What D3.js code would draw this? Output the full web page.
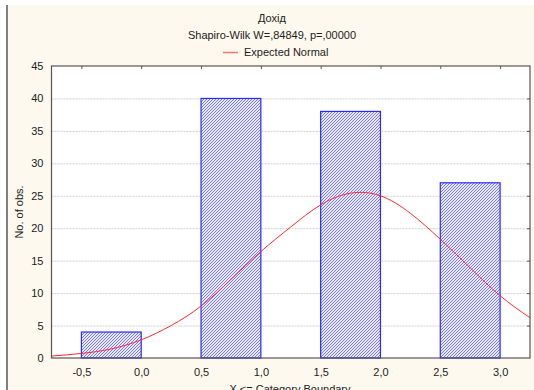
<!DOCTYPE html>
<html>
<head>
<meta charset="utf-8">
<script src="https://cdn.jsdelivr.net/npm/d3@7"></script>
<style>
  body { margin: 0; background: #fff; }
  text { font-family: "Liberation Sans", Arial, sans-serif; fill: #222; }
</style>
</head>
<body>
<svg id="chart" width="534" height="390"></svg>
<script>
// bars: category boundaries (x <= boundary) and counts
var binStarts = [-0.5, 0.5, 1.5, 2.5];
var binEnds = [0.0, 1.0, 2.0, 3.0];
var counts = [4, 40, 38, 27];

// expected normal curve
var curveX = [-0.75, -0.5, -0.25, 0, 0.25, 0.5, 0.75, 1.0, 1.25, 1.5, 1.75, 2.0, 2.25, 2.5, 2.75, 3.0, 3.25];
var curveY = [0.3, 0.7, 1.4, 2.8, 5.0, 8.0, 12.1, 16.4, 20.2, 23.6, 25.4, 25.0, 22.3, 18.3, 13.9, 9.6, 6.2];

var xTicks = [-0.5, 0.0, 0.5, 1.0, 1.5, 2.0, 2.5, 3.0];
var yTicks = [0, 5, 10, 15, 20, 25, 30, 35, 40, 45];

var svg = d3.select("#chart");

// page background
svg.append("rect").attr("x", 8).attr("y", 5).attr("width", 526).attr("height", 385).attr("fill", "#fdf9ee");
svg.append("rect").attr("x", 6).attr("y", 5).attr("width", 2).attr("height", 385).attr("fill", "#808080");

var plotLeft = 51.5, plotRight = 530, plotTop = 66, plotBottom = 358;

var x = d3.scaleLinear().domain([-0.75, 3.25]).range([plotLeft, plotRight]);
var y = d3.scaleLinear().domain([0, 45]).range([plotBottom, plotTop]);

var defs = svg.append("defs");
var pat = defs.append("pattern")
    .attr("id", "hatch")
    .attr("patternUnits", "userSpaceOnUse")
    .attr("width", 3).attr("height", 3);
pat.append("rect").attr("width", 3).attr("height", 3).attr("fill", "#eaeaff");
pat.append("path").attr("d", "M-1,1 l2,-2 M0,3 l3,-3 M2,4 l2,-2")
    .attr("stroke", "#6b6bff").attr("stroke-width", 0.9);

svg.append("rect").attr("x", plotLeft).attr("y", plotTop)
    .attr("width", plotRight - plotLeft).attr("height", plotBottom - plotTop).attr("fill", "#fff");

// horizontal dotted grid
svg.append("g").selectAll("line").data(yTicks.slice(1, -1)).join("line")
    .attr("x1", plotLeft).attr("x2", plotRight)
    .attr("y1", function (d) { return y(d) + 0.5; })
    .attr("y2", function (d) { return y(d) + 0.5; })
    .attr("stroke", "#cfcfcf").attr("stroke-dasharray", "2,1");

// bars
svg.append("g").selectAll("rect").data(counts).join("rect")
    .attr("x", function (d, i) { return x(binStarts[i]); })
    .attr("y", function (d) { return y(d); })
    .attr("width", function (d, i) { return x(binEnds[i]) - x(binStarts[i]); })
    .attr("height", function (d) { return y(0) - y(d); })
    .attr("fill", "url(#hatch)")
    .attr("stroke", "#2a2aff").attr("stroke-width", 1.2);

// normal curve
var line = d3.line()
    .x(function (d, i) { return x(curveX[i]); })
    .y(function (d) { return y(d); })
    .curve(d3.curveNatural);

svg.append("path").datum(curveY)
    .attr("d", line)
    .attr("fill", "none")
    .attr("stroke", "#ff2a2a").attr("stroke-width", 1);

// frame
svg.append("rect").attr("x", plotLeft).attr("y", plotTop)
    .attr("width", plotRight - plotLeft).attr("height", plotBottom - plotTop)
    .attr("fill", "none").attr("stroke", "#555").attr("stroke-width", 1.2);

// inner ticks on top and right
var topAxis = d3.axisTop(x).tickValues(xTicks).tickSize(-3).tickFormat("");
svg.append("g").attr("transform", "translate(0," + plotTop + ")").call(topAxis)
    .call(function (g) { g.select(".domain").remove(); g.selectAll("line").attr("stroke", "#555"); });

var rightAxis = d3.axisRight(y).tickValues(yTicks.slice(1, -1)).tickSize(-3).tickFormat("");
svg.append("g").attr("transform", "translate(" + plotRight + ",0)").call(rightAxis)
    .call(function (g) { g.select(".domain").remove(); g.selectAll("line").attr("stroke", "#555"); });

// tick labels
var fmt = function (d) { return d3.format(".1f")(d).replace(".", ",").replace("−", "-"); };
var bottomAxis = d3.axisBottom(x).tickValues(xTicks).tickSize(0).tickPadding(10).tickFormat(fmt);
svg.append("g").attr("transform", "translate(0," + plotBottom + ")").call(bottomAxis)
    .call(function (g) {
        g.select(".domain").remove();
        g.selectAll("text").attr("font-size", 11).attr("font-family", "Liberation Sans, Arial, sans-serif").attr("fill", "#222");
    });

var leftAxis = d3.axisLeft(y).tickValues(yTicks).tickSize(0).tickPadding(8);
svg.append("g").attr("transform", "translate(" + plotLeft + ",0)").call(leftAxis)
    .call(function (g) {
        g.select(".domain").remove();
        g.selectAll("text").attr("font-size", 11).attr("font-family", "Liberation Sans, Arial, sans-serif").attr("fill", "#222");
    });

// titles
svg.append("text").attr("x", 272).attr("y", 22).attr("text-anchor", "middle").attr("font-size", 11).text("Дохід");
svg.append("text").attr("x", 272).attr("y", 39).attr("text-anchor", "middle").attr("font-size", 11)
    .text("Shapiro-Wilk W=,84849, p=,00000");

// legend
svg.append("line").attr("x1", 223).attr("x2", 238).attr("y1", 52.5).attr("y2", 52.5)
    .attr("stroke", "#ff7070").attr("stroke-width", 1.5);
svg.append("text").attr("x", 244).attr("y", 56).attr("font-size", 11).text("Expected Normal");

// axis titles
svg.append("text").attr("transform", "translate(23,212) rotate(-90)")
    .attr("text-anchor", "middle").attr("font-size", 11).text("No. of obs.");
svg.append("text").attr("x", 290).attr("y", 393).attr("text-anchor", "middle").attr("font-size", 11)
    .text("X <= Category Boundary");
</script>
</body>
</html>
